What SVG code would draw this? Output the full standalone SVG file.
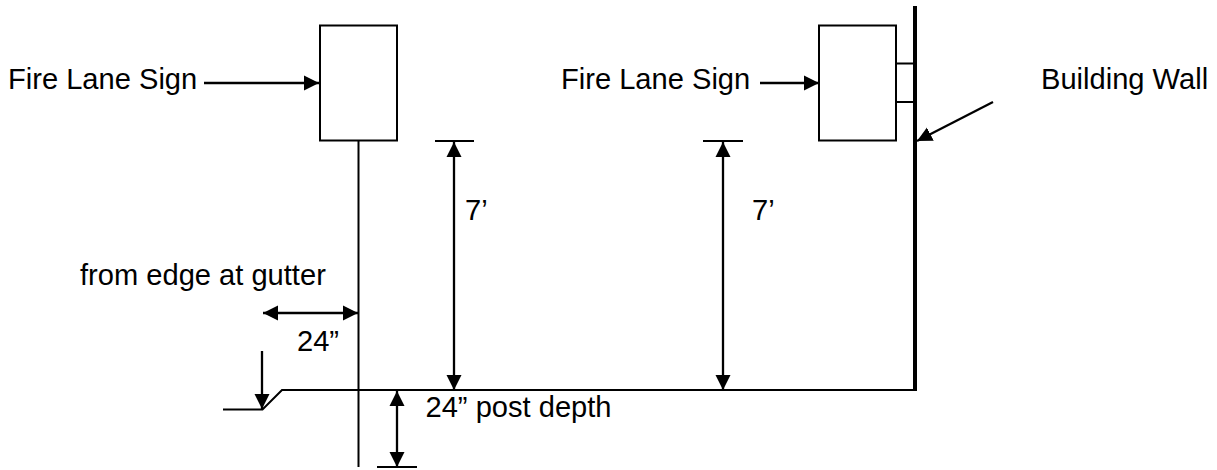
<svg xmlns="http://www.w3.org/2000/svg" width="1217" height="470" viewBox="0 0 1217 470">
<style>
text{font-family:"Liberation Sans",Arial,sans-serif;font-size:29.1px;fill:#000}
.l{fill:none;stroke:#000;stroke-width:2}
.a{fill:none;stroke:#000;stroke-width:2.3}
.s{fill:#fff;stroke:#000;stroke-width:2}
</style>
<defs>
<marker id="h" markerUnits="userSpaceOnUse" markerWidth="16" markerHeight="16" refX="15" refY="8" orient="auto-start-reverse" viewBox="0 0 16 16"><path d="M0 0.5L15 8L0 15.500Z" fill="#000"/></marker>
</defs>
<g id="connectors">
<path class="l" d="M358.500 141V467"/>
<path class="l" d="M223 409.500H262.500L282 390H916"/>
<path class="l" d="M435 141H474M703 141H743M377 467H417"/>
<path class="l" d="M896 63.500H915M896 102H915"/>
<path d="M915 6V391" fill="none" stroke="#000" stroke-width="4"/>
<path class="a" d="M204 83H319" marker-end="url(#h)"/>
<path class="a" d="M760 83H819" marker-end="url(#h)"/>
<path class="a" d="M993 102L917 141" marker-end="url(#h)"/>
<path class="a" d="M454 142V390" marker-start="url(#h)" marker-end="url(#h)"/>
<path class="a" d="M723 142V390" marker-start="url(#h)" marker-end="url(#h)"/>
<path class="a" d="M263 313H358" marker-start="url(#h)" marker-end="url(#h)"/>
<path class="a" d="M397 391V467" marker-start="url(#h)" marker-end="url(#h)"/>
<path class="a" d="M262 351V409" marker-end="url(#h)"/>
</g>
<g id="sign-post"><rect class="s" x="320" y="25.500" width="77" height="115"/></g>
<g id="sign-wall"><rect class="s" x="819" y="25.500" width="77" height="115"/></g>
<g id="labels">
<text x="8" y="89">Fire Lane Sign</text>
<text x="561" y="89">Fire Lane Sign</text>
<text x="1041" y="89">Building Wall</text>
<text x="465" y="220">7’</text>
<text x="752" y="220">7’</text>
<text x="80" y="285">from edge at gutter</text>
<text x="297" y="351">24”</text>
<text x="425.500" y="417">24” post depth</text>
</g>
</svg>
